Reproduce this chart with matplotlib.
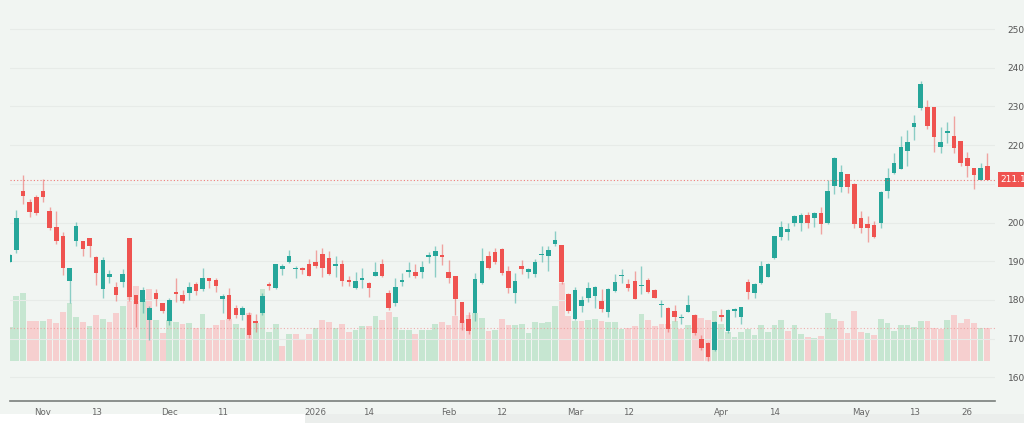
import matplotlib.pyplot as plt
import numpy as np
from matplotlib.patches import Rectangle

# daily OHLC, trading-day index 0 = Oct 27 2025 ... 147 = May 29 2026
opens = [189.9, 192.9, 208.1, 205.2, 206.5, 208.1, 203.1, 198.8, 196.5, 184.9,
         195.1, 195.3, 195.9, 191.0, 182.8, 185.8, 183.4, 184.7, 195.9, 181.3,
         179.4, 174.8, 181.7, 179.1, 174.6, 182.0, 181.3, 181.7, 184.0, 182.7,
         185.7, 185.1, 180.2, 181.3, 178.0, 176.1, 176.1, 174.5, 176.5, 184.0,
         183.0, 187.9, 189.9, 187.9, 188.3, 189.4, 189.9, 191.8, 190.9, 188.7,
         189.3, 185.1, 183.0, 185.1, 184.4, 186.2, 189.2, 181.9, 179.1, 184.7,
         187.3, 187.1, 187.3, 191.2, 191.3, 191.3, 187.3, 186.3, 179.5, 175.0,
         176.7, 184.3, 191.3, 192.5, 193.1, 187.5, 181.7, 188.8, 187.1, 186.6,
         191.5, 191.4, 194.4, 194.3, 181.4, 175.1, 178.4, 180.4, 181.1, 179.8,
         176.8, 182.3, 186.2, 184.2, 185.0, 183.6, 185.1, 182.6, 178.6, 178.0,
         177.2, 175.2, 176.9, 176.1, 169.9, 168.8, 167.0, 176.1, 172.0, 177.2,
         175.7, 184.7, 181.7, 184.3, 186.0, 190.7, 196.3, 197.5, 199.8, 200.0,
         201.9, 201.1, 202.4, 199.8, 209.5, 209.3, 212.6, 209.9, 201.2, 199.5,
         199.3, 199.8, 208.2, 212.9, 213.8, 218.5, 224.8, 229.7, 229.9, 229.9,
         219.6, 223.2, 222.4, 221.0, 216.6, 214.2, 211.1, 214.6]
highs = [191.8, 203.2, 212.3, 206.0, 207.1, 211.2, 203.9, 203.1, 197.6, 188.3,
         200.2, 195.3, 195.9, 191.3, 191.0, 187.7, 184.5, 187.9, 196.0, 181.3,
         183.3, 178.3, 182.7, 179.3, 180.4, 185.6, 182.6, 184.7, 184.7, 188.2,
         185.7, 185.6, 181.4, 183.0, 178.7, 178.3, 177.0, 176.3, 181.7, 184.7,
         189.3, 189.4, 192.9, 188.8, 188.6, 190.6, 192.9, 193.5, 192.6, 191.3,
         190.3, 186.2, 187.3, 188.2, 184.7, 189.9, 190.5, 182.5, 185.6, 187.0,
         189.9, 189.3, 190.0, 192.5, 193.8, 194.4, 190.3, 186.3, 179.5, 177.0,
         187.0, 193.5, 192.7, 193.3, 193.3, 188.8, 187.0, 190.3, 188.3, 190.5,
         193.9, 193.8, 197.8, 194.3, 181.8, 183.4, 181.1, 184.7, 183.7, 182.7,
         183.0, 186.6, 187.9, 185.3, 187.5, 188.8, 185.6, 182.7, 180.0, 178.2,
         178.7, 176.3, 181.3, 176.3, 170.9, 169.2, 174.6, 177.6, 177.6, 177.8,
         178.2, 185.3, 184.3, 190.0, 189.6, 196.5, 200.5, 199.9, 201.9, 202.4,
         202.8, 202.6, 203.9, 211.0, 217.0, 214.9, 212.6, 210.1, 203.0, 201.7,
         200.4, 208.1, 214.2, 217.9, 222.4, 223.9, 227.8, 236.6, 231.6, 229.9,
         224.6, 226.0, 227.5, 221.0, 218.3, 214.2, 215.5, 217.9]
lows = [189.7, 192.0, 204.7, 201.3, 201.9, 205.4, 198.1, 194.4, 186.4, 179.1,
        193.8, 191.3, 191.2, 183.9, 180.6, 184.3, 179.6, 183.4, 179.6, 173.1,
        176.5, 169.6, 178.3, 176.7, 173.5, 179.5, 179.3, 180.0, 181.3, 182.3,
        183.2, 182.1, 176.5, 174.8, 175.4, 174.8, 170.2, 171.8, 176.1, 182.6,
        182.8, 186.4, 189.6, 185.7, 186.6, 186.3, 188.3, 186.0, 186.4, 186.0,
        183.6, 183.6, 182.7, 183.2, 180.7, 186.2, 186.0, 177.5, 178.4, 183.6,
        185.8, 185.7, 185.7, 189.6, 186.0, 189.0, 184.4, 176.1, 172.2, 171.1,
        174.6, 184.0, 188.1, 189.4, 186.4, 181.7, 179.1, 186.7, 185.6, 186.0,
        189.7, 187.5, 193.8, 184.0, 176.5, 174.8, 177.0, 179.4, 178.0, 176.8,
        175.7, 182.1, 184.3, 182.4, 180.2, 181.4, 181.7, 180.4, 175.6, 171.8,
        174.6, 173.9, 176.8, 170.9, 167.0, 164.3, 166.8, 174.6, 171.5, 175.7,
        173.8, 180.2, 180.4, 184.0, 185.8, 190.6, 195.6, 195.6, 199.1, 197.8,
        198.7, 198.9, 197.0, 199.6, 207.3, 208.0, 207.5, 198.7, 197.2, 194.9,
        195.9, 198.7, 206.4, 212.5, 213.7, 214.7, 221.3, 229.1, 224.1, 218.3,
        217.9, 220.5, 217.9, 214.7, 211.8, 208.6, 211.0, 211.1]
closes = [191.6, 201.1, 206.9, 202.8, 202.4, 206.7, 198.5, 195.3, 188.2, 188.2,
          199.1, 193.2, 193.8, 186.9, 190.3, 186.7, 181.3, 186.6, 180.7, 178.9,
          182.6, 177.8, 180.2, 177.1, 180.0, 181.4, 179.7, 183.4, 182.3, 185.6,
          185.0, 183.7, 181.1, 175.1, 176.1, 177.8, 170.9, 174.1, 181.1, 183.6,
          189.2, 188.8, 191.4, 188.3, 187.6, 186.3, 188.8, 188.2, 186.7, 189.2,
          185.0, 184.7, 185.0, 185.7, 183.2, 187.3, 186.2, 177.8, 183.4, 185.0,
          187.7, 186.2, 188.6, 191.6, 192.6, 191.2, 185.6, 180.2, 174.1, 172.0,
          185.4, 190.0, 188.3, 189.9, 186.9, 183.0, 184.9, 187.9, 188.0, 189.9,
          191.6, 192.9, 195.6, 184.5, 177.1, 182.6, 180.0, 183.2, 183.4, 177.6,
          182.7, 184.7, 186.5, 183.2, 180.2, 183.9, 182.1, 180.6, 179.0, 172.5,
          175.7, 175.6, 178.6, 171.4, 167.5, 165.2, 174.4, 175.7, 177.4, 177.6,
          178.1, 182.1, 184.0, 188.8, 189.4, 196.5, 198.9, 198.4, 201.8, 201.9,
          199.8, 202.5, 199.6, 208.2, 216.6, 213.1, 209.3, 199.5, 198.5, 198.7,
          196.3, 208.0, 211.4, 215.3, 219.4, 220.9, 225.8, 235.7, 225.0, 222.2,
          220.7, 223.5, 219.3, 215.3, 214.7, 212.4, 214.2, 211.1]
volumes = [34, 65, 68, 40, 40, 40, 42, 38, 49, 58, 44, 39, 35, 46, 42, 39, 48, 55, 77, 75,
           62, 72, 41, 28, 41, 39, 37, 38, 33, 47, 33, 36, 41, 42, 37, 33, 48, 38, 72, 29,
           37, 15, 27, 27, 22, 27, 33, 41, 39, 33, 37, 29, 31, 35, 35, 45, 41, 49, 44, 31,
           31, 27, 31, 31, 37, 39, 36, 45, 41, 46, 48, 43, 30, 31, 42, 36, 36, 37, 28, 39,
           38, 39, 55, 78, 45, 40, 40, 41, 42, 40, 39, 39, 32, 33, 35, 47, 41, 35, 37, 37,
           40, 32, 36, 46, 43, 41, 50, 37, 29, 24, 29, 32, 26, 36, 29, 36, 41, 30, 36, 27,
           24, 23, 25, 48, 42, 40, 28, 50, 29, 28, 26, 42, 38, 30, 36, 36, 34, 40, 40, 33,
           32, 41, 46, 38, 42, 38, 33, 33]

tick_pos = [5, 13, 24, 32, 46, 54, 66, 74, 85, 93, 107, 115, 128, 136, 144]
tick_labels = ['Nov', '13', 'Dec', '11', '2026', '14', 'Feb', '12', 'Mar', '12',
               'Apr', '14', 'May', '13', '26']
price_ticks = [160, 170, 180, 190, 200, 210, 220, 230, 240, 250]

bg = '#f1f5f2'
up = '#26a69a'
down = '#ef5350'
vol_up = '#c6e6d1'
vol_down = '#f6cfcf'

W, H = 1024, 423
fig = plt.figure(figsize=(W / 100, H / 100), dpi=100, facecolor=bg)
ax = fig.add_axes([10 / W, 22 / H, 985 / W, 401 / H])
vax = ax.twinx()
ax.set_zorder(vax.get_zorder() + 1)
ax.patch.set_visible(False)
vax.set_facecolor(bg)

o = np.array(opens)
h = np.array(highs)
l = np.array(lows)
c = np.array(closes)
v = np.array(volumes)
x = np.arange(len(c))

# volume (colour by close vs previous close)
prev = np.concatenate([[c[0] - 1], c[:-1]])
vcol = [vol_up if cc >= pc else vol_down for cc, pc in zip(c, prev)]
vax.bar(x, v, width=0.86, color=vcol, linewidth=0)
vax.axhline(v[-1], color='#f09a9a', lw=0.8, ls=(0, (1, 2)), alpha=0.8)
vax.set_ylim(-40, 361)
vax.set_yticks([])
for s in vax.spines.values():
    s.set_visible(False)

# candles
isup = c >= o
col = np.where(isup, up, down)
ax.vlines(x, l, h, colors=col, lw=1, alpha=0.5)
body_lo = np.minimum(o, c)
body_h = np.maximum(np.abs(c - o), 0.35)
ax.bar(x, body_h, bottom=body_lo, width=0.68, color=col, linewidth=0)

ax.axhline(c[-1], color=down, lw=0.8, ls=(0, (1, 2)), alpha=0.75)
ax.grid(axis='y', color='#e7ebe8', lw=0.8)
ax.set_axisbelow(True)

ax.set_xlim((10 - 9.7) / 6.65, (995 - 9.7) / 6.65)
ax.set_ylim(250 - 372 / 3.87, 250 + 29 / 3.87)

ax.yaxis.tick_right()
ax.set_yticks(price_ticks)
ax.set_yticklabels([f'{p:.2f}' for p in price_ticks])
ax.tick_params(axis='y', length=0, pad=9, labelsize=6.5, labelcolor='#555555')
ax.set_xticks(tick_pos)
ax.set_xticklabels(tick_labels)
ax.tick_params(axis='x', length=0, pad=5, labelsize=6.2, labelcolor='#666666')
for k in ['top', 'right', 'left']:
    ax.spines[k].set_visible(False)
ax.spines['bottom'].set_color('#7a7f7c')
ax.spines['bottom'].set_linewidth(1.2)

ax.annotate(f'{c[-1]:.2f}', xy=(1.0, c[-1]), xycoords=('axes fraction', 'data'),
            xytext=(4, 0), textcoords='offset points', ha='left', va='center',
            fontsize=6.5, color='white',
            bbox=dict(boxstyle='square,pad=0.3', fc=down, ec='none'))

fig.patches.append(Rectangle((305 / W, 0), 1, 9 / H, transform=fig.transFigure,
                             fc='#ebeeec', ec='none', zorder=0))
fig.patches.append(Rectangle((0, 0), 305 / W, 9 / H, transform=fig.transFigure,
                             fc='white', ec='none', zorder=0))

fig.savefig('out.png', dpi=100, facecolor=bg)
